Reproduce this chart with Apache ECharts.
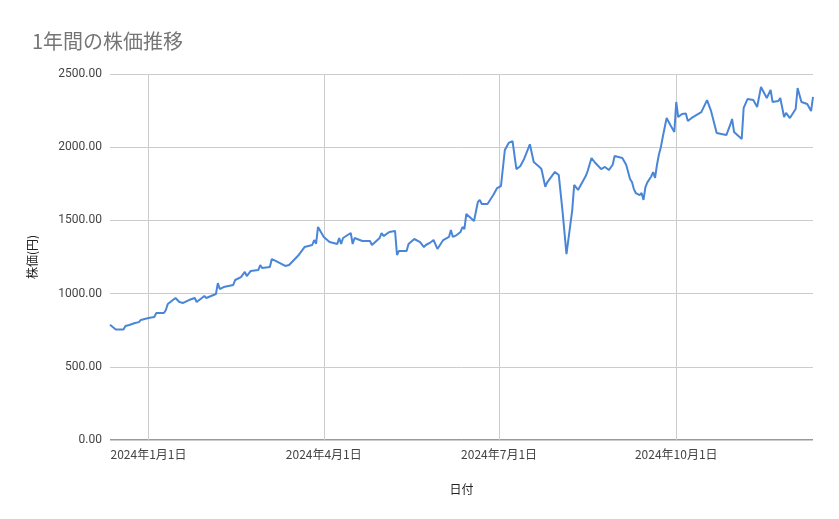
<!DOCTYPE html>
<html>
<head>
<meta charset="utf-8">
<script src="https://cdn.jsdelivr.net/npm/echarts@6/dist/echarts.min.js"></script>
<style>
  html, body { margin: 0; padding: 0; background: #fff; }
  #chart { width: 839px; height: 519px; }
</style>
</head>
<body>
<div id="chart"></div>
<script>
// 日付と株価
var dates = [
  '2023-12-12','2023-12-13','2023-12-15','2023-12-19','2023-12-20','2023-12-22','2023-12-25','2023-12-27','2023-12-28',
  '2024-01-01','2024-01-04','2024-01-05','2024-01-09','2024-01-10','2024-01-11','2024-01-15','2024-01-17','2024-01-19',
  '2024-01-22','2024-01-25','2024-01-26','2024-01-30','2024-01-31','2024-02-05','2024-02-06','2024-02-07','2024-02-09',
  '2024-02-14','2024-02-15','2024-02-18','2024-02-20','2024-02-21','2024-02-23','2024-02-27','2024-02-28','2024-02-29',
  '2024-03-04','2024-03-05','2024-03-07','2024-03-12','2024-03-14','2024-03-19','2024-03-22','2024-03-26','2024-03-27',
  '2024-03-28','2024-03-29','2024-04-01','2024-04-02','2024-04-04','2024-04-08','2024-04-09','2024-04-10','2024-04-11',
  '2024-04-15','2024-04-16','2024-04-17','2024-04-21','2024-04-25','2024-04-26','2024-04-30','2024-05-01','2024-05-02',
  '2024-05-05','2024-05-08','2024-05-09','2024-05-10','2024-05-14','2024-05-15','2024-05-16','2024-05-18','2024-05-21',
  '2024-05-23','2024-05-24','2024-05-26','2024-05-28','2024-05-30','2024-06-02','2024-06-05','2024-06-06','2024-06-07',
  '2024-06-09','2024-06-11','2024-06-12','2024-06-13','2024-06-14','2024-06-18','2024-06-20','2024-06-21','2024-06-22',
  '2024-06-25','2024-06-28','2024-06-30','2024-07-02','2024-07-04','2024-07-06','2024-07-08','2024-07-10','2024-07-12',
  '2024-07-14','2024-07-17','2024-07-19','2024-07-22','2024-07-23','2024-07-25','2024-07-26','2024-07-28','2024-07-30',
  '2024-08-01','2024-08-02','2024-08-03','2024-08-05','2024-08-08','2024-08-09','2024-08-11','2024-08-15','2024-08-16',
  '2024-08-17','2024-08-18','2024-08-20','2024-08-23','2024-08-25','2024-08-26','2024-08-27','2024-08-29','2024-08-30',
  '2024-09-03','2024-09-05','2024-09-07','2024-09-08','2024-09-09','2024-09-10','2024-09-12','2024-09-13','2024-09-14',
  '2024-09-15','2024-09-16','2024-09-18','2024-09-19','2024-09-20','2024-09-21','2024-09-22','2024-09-23','2024-09-24',
  '2024-09-26','2024-09-28','2024-09-30','2024-10-01','2024-10-02','2024-10-04','2024-10-06','2024-10-07','2024-10-09',
  '2024-10-14','2024-10-17','2024-10-19','2024-10-22','2024-10-23','2024-10-27','2024-10-29','2024-10-30','2024-10-31',
  '2024-11-04','2024-11-05','2024-11-06','2024-11-07','2024-11-10','2024-11-12','2024-11-14','2024-11-17','2024-11-19',
  '2024-11-20','2024-11-23','2024-11-24','2024-11-26','2024-11-27','2024-11-29','2024-12-02','2024-12-03','2024-12-05',
  '2024-12-08','2024-12-10','2024-12-11'
];
var prices = [
  787,779,755,755,779,786,799,805,820,
  833,840,867,867,888,929,970,943,936,
  956,970,943,984,970,997,1072,1031,1045,
  1059,1093,1113,1148,1120,1154,1161,1195,1175,
  1182,1236,1223,1189,1195,1264,1318,1332,1366,
  1340,1455,1387,1400,1352,1339,1380,1339,1380,
  1414,1339,1380,1359,1359,1332,1380,1414,1393,
  1421,1428,1264,1291,1291,1339,1346,1373,1352,
  1318,1332,1346,1366,1305,1366,1387,1434,1387,
  1400,1421,1455,1441,1544,1496,1626,1640,1612,
  1612,1674,1721,1735,1981,2029,2042,1850,1870,
  1920,2020,1899,1865,1851,1730,1760,1796,1831,
  1810,1820,1557,1270,1571,1742,1708,1803,1837,
  1837,1926,1892,1851,1865,1865,1844,1880,1940,
  1926,1880,1783,1762,1714,1687,1673,1687,1640,
  1728,1760,1800,1830,1790,1880,1950,2000,2070,
  2199,2150,2104,2309,2206,2227,2230,2179,2200,
  2240,2322,2250,2097,2110,2083,2152,2193,2104,
  2056,2268,2255,2329,2322,2275,2411,2336,2391,
  2309,2315,2336,2206,2234,2199,2261,2404,2309,
  2295,2247,2343
];
var xTicks = ['2024-01-01','2024-04-01','2024-07-01','2024-10-01'];

var chart = echarts.init(document.getElementById('chart'));
function ts(d) { return new Date(d + 'T00:00:00').getTime(); }
var tickTimes = xTicks.map(ts);
var seriesData = dates.map(function (d, i) { return [ts(d), prices[i]]; });

chart.setOption({
  animation: false,
  title: {
    text: '1年間の株価推移',
    left: 27, top: 26,
    textStyle: { color: '#757575', fontSize: 20, fontWeight: 'normal', fontFamily: 'Noto Sans CJK JP' }
  },
  grid: { left: 110, right: 26, top: 74, bottom: 79 },
  xAxis: {
    type: 'value',
    min: seriesData[0][0],
    max: seriesData[seriesData.length - 1][0],
    name: '日付',
    nameLocation: 'middle',
    nameGap: 43,
    nameTextStyle: { color: '#222', fontSize: 12, fontFamily: 'Noto Sans CJK JP' },
    axisLine: { show: false },
    axisTick: { show: true, customValues: tickTimes, length: 0 },
    axisLabel: {
      customValues: tickTimes,
      showMinLabel: true, showMaxLabel: true,
      color: '#444', fontSize: 12, fontFamily: 'Noto Sans CJK JP', margin: 8,
      formatter: function (v) {
        var d = new Date(v);
        return d.getFullYear() + '年' + (d.getMonth() + 1) + '月' + d.getDate() + '日';
      }
    },
    splitLine: { show: true, lineStyle: { color: '#cccccc' } }
  },
  yAxis: {
    type: 'value',
    min: 0, max: 2500, interval: 500,
    name: '株価(円)',
    nameLocation: 'middle',
    nameGap: 72,
    nameTextStyle: { color: '#222', fontSize: 12, fontFamily: 'Noto Sans CJK JP' },
    axisLine: { show: false },
    axisTick: { show: false },
    axisLabel: {
      color: '#444', fontSize: 12, fontFamily: 'Roboto', margin: 8,
      formatter: function (v) { return v.toFixed(2); }
    },
    splitLine: { lineStyle: { color: '#cccccc' } }
  },
  series: [{
    type: 'line',
    data: seriesData,
    showSymbol: false,
    lineStyle: { color: '#4a86d8', width: 2 },
    itemStyle: { color: '#4a86d8' }
  }],
  graphic: [{
    type: 'line',
    shape: { x1: 110, y1: 440, x2: 813, y2: 440 },
    style: { stroke: '#333', lineWidth: 1 }
  }]
});
</script>
</body>
</html>
